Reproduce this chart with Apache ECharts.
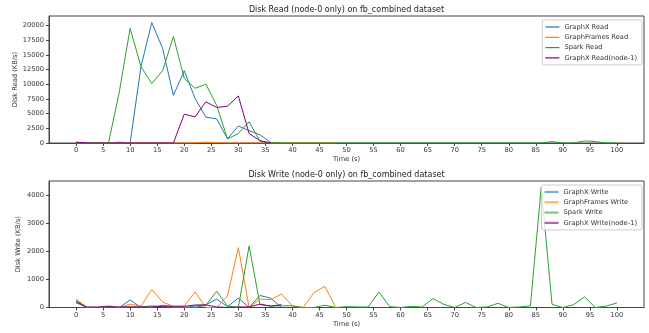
<!DOCTYPE html>
<html>
<head>
<meta charset="utf-8">
<script src="https://cdn.jsdelivr.net/npm/echarts@6/dist/echarts.min.js"></script>
<style>
  html, body { margin: 0; padding: 0; background: #fff; }
  #chart { width: 649px; height: 333px; }
</style>
</head>
<body>
<div id="chart"></div>
<script>
// sample times (s), one sample every 2 s
const times = [0, 2, 4, 6, 8, 10, 12, 14, 16, 18, 20, 22, 24, 26, 28, 30, 32, 34, 36, 38,
  40, 42, 44, 46, 48, 50, 52, 54, 56, 58, 60, 62, 64, 66, 68, 70, 72, 74, 76, 78,
  80, 82, 84, 86, 88, 90, 92, 94, 96, 98, 100];

const xTicks = [0, 5, 10, 15, 20, 25, 30, 35, 40, 45, 50, 55, 60, 65, 70, 75, 80, 85, 90, 95, 100];
const readTicks = [0, 2500, 5000, 7500, 10000, 12500, 15000, 17500, 20000];
const writeTicks = [0, 1000, 2000, 3000, 4000];

// Disk Read (KB/s)
const graphxRead = [100, 0, 0, 0, 150, 0, 13000, 20500, 16100, 8100, 12300, 7600, 4400, 4100, 700, 2900, 2100, 1400, 100, 0];
const graphframesRead = [0, 0, 0, 0, 0, 0, 0, 0, 0, 0, 0, 40, 150, 40, 0, 0, 0, 0, 0, 0,
  0, 0, 0, 0, 0];
const sparkRead = [0, 0, 0, 0, 8700, 19500, 13000, 10100, 12300, 18100, 11000, 9300, 10000, 6400, 700, 1600, 3600, 300, 0, 0,
  0, 0, 0, 0, 0, 0, 0, 0, 0, 0, 0, 0, 0, 0, 0, 0, 0, 0, 0, 0,
  0, 0, 0, 0, 250, 0, 0, 350, 250, 0, 0];
const graphxReadNode1 = [150, 0, 0, 0, 0, 0, 0, 0, 0, 0, 4900, 4450, 7000, 6050, 6250, 8000, 1600, 400, 0];

// Disk Write (KB/s)
const graphxWrite = [250, 0, 0, 0, 0, 270, 0, 0, 80, 20, 0, 50, 100, 300, 30, 340, 0, 430, 330, 0];
const graphframesWrite = [300, 0, 0, 60, 0, 120, 50, 640, 200, 30, 50, 560, 0, 0, 415, 2140, 0, 300, 280, 480,
  50, 0, 530, 760, 0];
const sparkWrite = [170, 0, 0, 30, 0, 20, 20, 60, 30, 20, 0, 0, 80, 580, 50, 0, 2200, 100, 50, 60,
  60, 0, 0, 80, 0, 30, 20, 20, 550, 30, 0, 40, 20, 320, 110, 0, 180, 0, 20, 150,
  0, 20, 60, 4300, 110, 0, 100, 380, 0, 50, 165];
const graphxWriteNode1 = [200, 20, 20, 30, 20, 20, 20, 20, 40, 50, 40, 90, 90, 20, 0, 20, 20, 120, 50, 100];

const pairs = (vals) => vals.map((v, i) => [times[i], v]);

const FONT = 'DejaVu Sans';
const TICK = 6.7;
const INK = '#333';
const SPINE = '#444';

function line(name, data, color, idx) {
  return {
    name, type: 'line', xAxisIndex: idx, yAxisIndex: idx,
    data: pairs(data), symbol: 'none', animation: false,
    lineStyle: { width: 1, color }, itemStyle: { color }
  };
}

function xAxis(idx) {
  return {
    type: 'value', gridIndex: idx, min: -5, max: 105,
    name: 'Time (s)', nameLocation: 'middle', nameGap: 13, nameMoveOverlap: false,
    nameTextStyle: { fontSize: TICK, color: INK, fontFamily: FONT },
    axisLine: { show: true, onZero: false, lineStyle: { color: SPINE } },
    axisTick: { show: true, customValues: xTicks, length: 3, lineStyle: { color: SPINE } },
    axisLabel: { customValues: xTicks, fontSize: TICK, color: INK, fontFamily: FONT, margin: 4, formatter: (v) => String(v) },
    splitLine: { show: false }
  };
}

function yAxis(idx, name, max, ticks, gap) {
  return {
    type: 'value', gridIndex: idx, min: 0, max,
    name, nameLocation: 'middle', nameGap: gap, nameMoveOverlap: false,
    nameTextStyle: { fontSize: TICK, color: INK, fontFamily: FONT },
    axisLine: { show: true, onZero: false, lineStyle: { color: SPINE } },
    axisTick: { show: true, customValues: ticks, length: 3, lineStyle: { color: SPINE } },
    axisLabel: { customValues: ticks, fontSize: TICK, color: INK, fontFamily: FONT, margin: 5, formatter: (v) => String(v) },
    splitLine: { show: false }
  };
}

function legend(names, top, h, opacity) {
  return {
    data: names, orient: 'vertical', right: 7, top,
    icon: 'rect', itemWidth: 14, itemHeight: h, itemGap: 2.3,
    itemStyle: { opacity },
    padding: [3, 5, 3, 3],
    borderColor: '#ccc', borderWidth: 1, borderRadius: 2,
    backgroundColor: 'rgba(255,255,255,0.8)',
    textStyle: { fontSize: TICK, color: INK, fontFamily: FONT, lineHeight: 8 }
  };
}

const chart = echarts.init(document.getElementById('chart'));
chart.setOption({
  animation: false,
  backgroundColor: '#fff',
  graphic: [
    { type: 'text', x: 346.5, y: 10, style: { text: 'Disk Read (node-0 only) on fb_combined dataset', font: '8px "DejaVu Sans"', fill: '#222', textAlign: 'center', textVerticalAlign: 'middle' } },
    { type: 'text', x: 346.5, y: 174.5, style: { text: 'Disk Write (node-0 only) on fb_combined dataset', font: '8px "DejaVu Sans"', fill: '#222', textAlign: 'center', textVerticalAlign: 'middle' } }
  ],
  grid: [
    { left: 49, right: 5, top: 16, height: 127, show: true, borderColor: SPINE, borderWidth: 1, backgroundColor: 'transparent' },
    { left: 49, right: 5, top: 181, height: 126.5, show: true, borderColor: SPINE, borderWidth: 1, backgroundColor: 'transparent' }
  ],
  legend: [
    legend(['GraphX Read', 'GraphFrames Read', 'Spark Read', 'GraphX Read(node-1)'], 20, 1.2, 1),
    legend(['GraphX Write', 'GraphFrames Write', 'Spark Write', 'GraphX Write(node-1)'], 185, 2.2, 0.6)
  ],
  xAxis: [xAxis(0), xAxis(1)],
  yAxis: [
    yAxis(0, 'Disk Read (KB/s)', 21600, readTicks, 30),
    yAxis(1, 'Disk Write (KB/s)', 4520, writeTicks, 27)
  ],
  series: [
    line('GraphX Read', graphxRead, '#1f77b4', 0),
    line('GraphFrames Read', graphframesRead, '#ff7f0e', 0),
    line('Spark Read', sparkRead, '#2ca02c', 0),
    line('GraphX Read(node-1)', graphxReadNode1, '#800080', 0),
    line('GraphX Write', graphxWrite, '#1f77b4', 1),
    line('GraphFrames Write', graphframesWrite, '#ff7f0e', 1),
    line('Spark Write', sparkWrite, '#2ca02c', 1),
    line('GraphX Write(node-1)', graphxWriteNode1, '#800080', 1)
  ]
});
</script>
</body>
</html>
